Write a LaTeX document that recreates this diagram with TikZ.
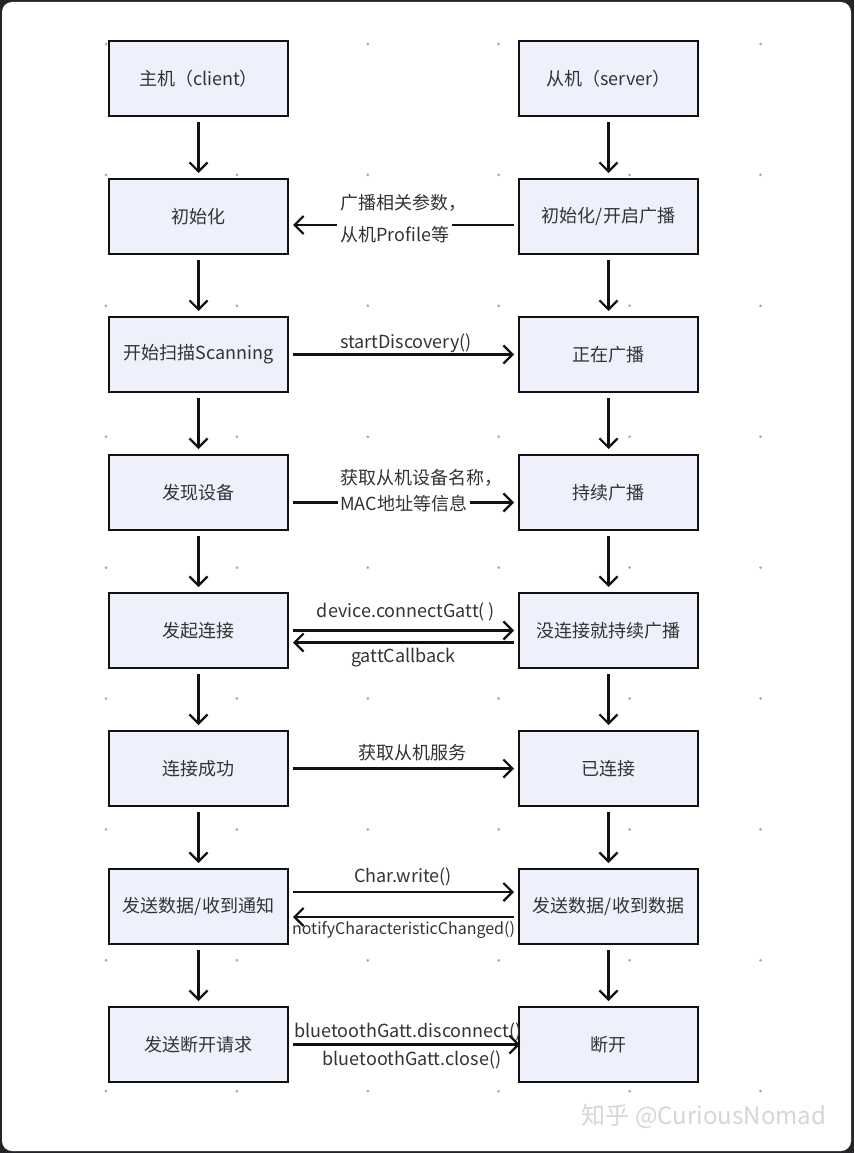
\documentclass[tikz,border=0pt]{standalone}
\usepackage{fontspec}
\setmainfont{Noto Sans CJK SC}
\usetikzlibrary{arrows.meta}
\definecolor{boxfill}{HTML}{EEF1FB}
\definecolor{txt}{HTML}{333333}
\definecolor{framec}{HTML}{24252A}
\definecolor{dotc}{HTML}{A8A8A8}
\definecolor{linec}{HTML}{111111}
\begin{document}
\begin{tikzpicture}[x=1pt,y=-1pt,
  stepbox/.style={draw=linec, line width=2.4pt, fill=boxfill, minimum width=178.6pt, minimum height=74.6pt, inner sep=0pt, text=txt, font=\fontsize{18}{21}\selectfont},
  flow/.style={line width=2.2pt, draw=linec, -{Straight Barb[length=9pt,width=18pt]}},
  plain/.style={line width=2.2pt, draw=linec},
  lab/.style={text=txt, font=\fontsize{18}{21}\selectfont, inner sep=0pt}
  ]
% frame
\fill[framec] (0,0) rectangle (854,1153);
\fill[white, rounded corners=10pt] (2,2) rectangle (851,1151);
\useasboundingbox (0,0) rectangle (854,1153);
% dot grid
\foreach \i in {0,...,5}{
  \foreach \j in {0,...,8}{
    \fill[dotc] ({106+130.9*\i},{44+130.9*\j}) circle (1.5pt);
  }
}
% boxes
\node[stepbox] (l1) at (198.5,78.5) {主机（client）};
\node[stepbox] (r1) at (608.5,78.5) {从机（server）};
\node[stepbox] (l2) at (198.5,216.5) {初始化};
\node[stepbox] (r2) at (608.5,216.5) {初始化/开启广播};
\node[stepbox] (l3) at (198.5,354.5) {开始扫描Scanning};
\node[stepbox] (r3) at (608.5,354.5) {正在广播};
\node[stepbox] (l4) at (198.5,492.5) {发现设备};
\node[stepbox] (r4) at (608.5,492.5) {持续广播};
\node[stepbox] (l5) at (198.5,630.5) {发起连接};
\node[stepbox] (r5) at (608.5,630.5) {没连接就持续广播};
\node[stepbox] (l6) at (198.5,768.5) {连接成功};
\node[stepbox] (r6) at (608.5,768.5) {已连接};
\node[stepbox] (l7) at (198.5,906.5) {发送数据/收到通知};
\node[stepbox] (r7) at (608.5,906.5) {发送数据/收到数据};
\node[stepbox] (l8) at (198.5,1044.5) {发送断开请求};
\node[stepbox] (r8) at (608.5,1044.5) {断开};
% vertical arrows
\foreach \a/\b in {1/2,2/3,3/4,4/5,5/6,6/7,7/8}{
  \draw[flow, shorten <=5pt, shorten >=5pt] (l\a) -- (l\b);
  \draw[flow, shorten <=5pt, shorten >=5pt] (r\a) -- (r\b);
}
% row 2
\node[lab, anchor=west] (t2a) at (340,203) {广播相关参数，};
\node[lab, anchor=west] (t2b) at (340,235) {从机Profile等};
\draw[plain, shorten <=4pt] ([yshift=-8.5pt]r2.west) -- ([yshift=-8.5pt,xshift=3pt]r2.west -| t2b.east);
\draw[flow, shorten >=4pt] ([yshift=-8.5pt,xshift=-3pt]l2.east -| t2b.west) -- ([yshift=-8.5pt]l2.east);
% row 3
\node[lab] (t3) at (406,343) {startDiscovery()};
\draw[flow, shorten <=4pt, shorten >=4pt] (l3) -- (r3);
% row 4
\node[lab, anchor=west] (t4a) at (340,478) {获取从机设备名称，};
\node[lab, anchor=west] (t4b) at (340,504) {MAC地址等信息};
\draw[plain, shorten <=4pt] ([yshift=-10pt]l4.east) -- ([yshift=-10pt,xshift=-2pt]l4.east -| t4b.west);
\draw[flow, shorten >=4pt] ([yshift=-10pt,xshift=3pt]r4.west -| t4b.east) -- ([yshift=-10pt]r4.west);
% row 5
\node[lab] (t5a) at (406,612) {device.connectGatt( )};
\node[lab] (t5b) at (403.5,658) {gattCallback};
\draw[flow, shorten <=4pt, shorten >=4pt] (l5) -- (r5);
\draw[flow, shorten <=4pt, shorten >=4pt] ([yshift=-12pt]r5.west) -- ([yshift=-12pt]l5.east);
% row 6
\node[lab] (t6) at (412,753) {获取从机服务};
\draw[flow, shorten <=4pt, shorten >=4pt] (l6) -- (r6);
% row 7
\node[lab] (t7a) at (403,877) {Char.write()};
\node[lab, font=\fontsize{16}{20}\selectfont] (t7b) at (403.5,930) {notifyCharacteristicChanged()};
\draw[flow, shorten <=4pt, shorten >=4pt] ([yshift=14.5pt]l7.east) -- ([yshift=14.5pt]r7.west);
\draw[flow, shorten <=4pt, shorten >=4pt] ([yshift=-10.5pt]r7.west) -- ([yshift=-10.5pt]l7.east);
% row 8
\node[lab] (t8a) at (408,1032) {bluetoothGatt.disconnect()};
\node[lab] (t8b) at (412,1060) {bluetoothGatt.close()};
\draw[flow, shorten <=4pt, shorten >=-2pt] (l8) -- (r8);
% watermark
\node[text=black!16, font=\fontsize{24}{28}\selectfont, inner sep=0pt] (wm) at (704,1116) {知乎 @CuriousNomad};
\end{tikzpicture}
\end{document}
